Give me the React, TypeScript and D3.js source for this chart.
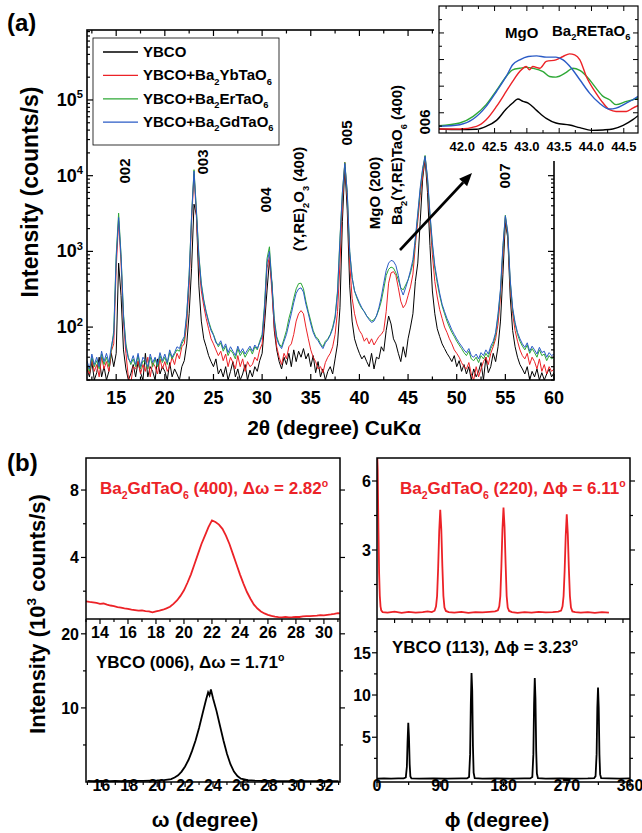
import React from 'react';
import * as d3 from 'd3';

const FONT = '"Liberation Sans", Arial, Helvetica, sans-serif';
const RED = '#ec2227';
const GREEN = '#2ea836';
const BLUE = '#2a5bc6';

// (a) theta-2theta scans, one reading every 0.25 deg from 12 to 60 deg (counts/s)
const scanStart = 12;
const scanStep = 0.25;

const ybco = [
  28, 22, 35, 20, 25, 40, 22, 30, 20, 26, 45, 30, 45, 700, 260, 50,
  28, 20, 24, 32, 22, 35, 25, 20, 45, 22, 30, 26, 20, 38, 24, 30,
  26, 20, 34, 22, 28, 24, 20, 30, 36, 60, 150, 600, 4200, 3000, 350, 120,
  70, 55, 42, 35, 30, 38, 24, 28, 22, 30, 20, 26, 35, 22, 28, 20,
  24, 32, 20, 27, 22, 30, 26, 36, 45, 110, 300, 760, 380, 90, 50, 35,
  28, 40, 32, 45, 30, 50, 35, 48, 40, 52, 38, 45, 30, 42, 25, 35,
  22, 28, 20, 26, 30, 24, 38, 60, 180, 2500, 13000, 3500, 350, 120, 70, 55,
  45, 38, 42, 35, 30, 45, 28, 40, 38, 55, 48, 90, 140, 110, 70, 60,
  45, 35, 55, 40, 70, 100, 150, 400, 700, 2500, 9000, 17000, 6000, 1200, 300, 150,
  95, 75, 60, 52, 45, 40, 35, 42, 30, 36, 26, 32, 24, 30, 20, 28,
  22, 26, 34, 20, 40, 25, 30, 45, 35, 55, 120, 500, 2400, 1500, 250, 90,
  55, 40, 32, 28, 24, 30, 20, 26, 22, 28, 20, 25, 20, 24, 28, 22,
  25,
];

const ybcoYb = [
  30, 24, 38, 26, 32, 22, 40, 28, 35, 26, 48, 60, 600, 2500, 700, 120,
  45, 22, 18, 30, 28, 36, 24, 32, 26, 40, 22, 34, 30, 24, 38, 28,
  35, 26, 30, 40, 32, 45, 38, 55, 60, 110, 350, 2500, 10500, 2800, 700, 300,
  190, 130, 95, 70, 60, 50, 42, 48, 36, 44, 30, 40, 34, 28, 42, 30,
  38, 26, 35, 30, 32, 40, 36, 50, 60, 150, 600, 850, 300, 100, 55, 40,
  32, 45, 38, 55, 60, 80, 120, 150, 165, 150, 100, 70, 50, 40, 35, 28,
  30, 25, 34, 40, 45, 55, 80, 160, 700, 4500, 15000, 5000, 700, 240, 150, 110,
  90, 80, 65, 72, 60, 70, 58, 66, 75, 80, 90, 160, 380, 520, 540, 480,
  330, 220, 180, 200, 260, 340, 500, 1200, 2500, 5500, 10000, 18000, 8000, 2500, 900, 400,
  250, 170, 130, 100, 85, 70, 60, 50, 45, 40, 34, 30, 28, 34, 24, 20,
  30, 22, 28, 35, 40, 32, 45, 55, 70, 110, 250, 900, 2800, 1600, 350, 150,
  90, 65, 50, 42, 38, 45, 32, 40, 35, 28, 38, 26, 32, 24, 30, 26,
  28,
];

const ybcoEr = [
  32, 26, 40, 30, 36, 28, 44, 32, 40, 30, 50, 90, 900, 3200, 900, 150,
  60, 40, 32, 38, 30, 42, 28, 36, 34, 28, 40, 30, 38, 30, 42, 34,
  40, 32, 46, 38, 44, 50, 48, 60, 70, 140, 500, 3000, 12000, 3500, 900, 380,
  230, 160, 120, 95, 80, 65, 55, 62, 48, 56, 42, 50, 45, 38, 52, 42,
  48, 40, 46, 52, 44, 55, 50, 65, 80, 200, 800, 1150, 400, 130, 75, 60,
  55, 70, 90, 130, 170, 240, 320, 375, 380, 320, 220, 160, 120, 90, 75, 70,
  60, 55, 65, 70, 80, 100, 140, 300, 1500, 6000, 15000, 6000, 1000, 450, 300, 240,
  200, 175, 160, 140, 130, 120, 125, 140, 170, 220, 320, 480, 580, 620, 600, 520,
  420, 330, 310, 360, 420, 520, 700, 1400, 3000, 6500, 12000, 18500, 9000, 3000, 1200, 600,
  380, 260, 190, 150, 120, 100, 85, 75, 65, 58, 52, 46, 42, 48, 38, 36,
  40, 34, 42, 38, 45, 40, 52, 60, 80, 140, 300, 1100, 3000, 1700, 400, 170,
  110, 80, 65, 56, 50, 58, 45, 52, 46, 40, 50, 42, 44, 36, 42, 38,
  40,
];

const ybcoGd = [
  36, 28, 44, 32, 40, 30, 48, 35, 45, 34, 55, 80, 800, 2800, 850, 140,
  55, 38, 34, 42, 32, 45, 30, 40, 36, 30, 44, 34, 40, 32, 46, 36,
  44, 34, 50, 40, 46, 55, 52, 65, 75, 150, 480, 2900, 11500, 3300, 850, 360,
  220, 155, 115, 90, 78, 62, 58, 66, 52, 60, 46, 55, 48, 42, 56, 46,
  52, 44, 50, 56, 48, 58, 52, 62, 75, 180, 700, 1000, 380, 120, 70, 58,
  52, 65, 80, 110, 150, 210, 280, 320, 330, 290, 200, 150, 110, 85, 72, 66,
  58, 52, 62, 68, 78, 95, 130, 280, 1400, 6000, 14500, 6000, 1000, 450, 300, 250,
  210, 180, 160, 140, 125, 115, 120, 140, 180, 250, 380, 560, 700, 760, 740, 650,
  480, 320, 265, 330, 420, 560, 780, 1500, 3200, 7000, 12500, 18000, 9500, 3200, 1300, 650,
  420, 280, 200, 160, 130, 110, 92, 80, 70, 62, 56, 50, 46, 52, 42, 40,
  44, 38, 46, 42, 50, 44, 56, 65, 85, 150, 320, 1200, 2950, 1800, 420, 180,
  115, 85, 70, 60, 54, 62, 48, 56, 50, 44, 54, 46, 48, 40, 46, 42,
  44,
];

// inset: 2theta (deg) vs intensity (a.u.)
const insetYbco = [
  [41.64, 7.8], [41.96, 7.3], [42.22, 7.6], [42.37, 9.8], [42.53, 14.3], [42.68, 22.8], [42.78, 27.3],
  [42.86, 30.3], [42.94, 28.6], [43.02, 27.3], [43.15, 21.8], [43.3, 15.8], [43.45, 12.3], [43.66, 10.8],
  [43.82, 8.8], [44.0, 6.8], [44.18, 7.1], [44.33, 7.8], [44.49, 10.5], [44.64, 14.8], [44.72, 17.8],
];
const insetYb = [
  [41.64, 7.8], [41.96, 7.8], [42.22, 9.8], [42.37, 14.8], [42.53, 24.8], [42.68, 36.0], [42.78, 43.6],
  [42.89, 51.0], [42.99, 54.8], [43.04, 52.3], [43.09, 54.8], [43.2, 53.5], [43.3, 58.6], [43.45, 59.8],
  [43.56, 62.3], [43.66, 64.3], [43.74, 63.5], [43.82, 59.8], [43.92, 47.3], [44.07, 34.8], [44.18, 27.3],
  [44.28, 22.3], [44.38, 21.0], [44.54, 21.0], [44.64, 23.5], [44.72, 25.3],
];
const insetEr = [
  [41.64, 10.3], [41.96, 12.3], [42.17, 17.3], [42.37, 26.1], [42.53, 36.8], [42.68, 47.3], [42.78, 52.3],
  [42.89, 53.5], [42.99, 54.1], [43.09, 53.5], [43.25, 51.0], [43.35, 47.3], [43.45, 46.8], [43.61, 50.3],
  [43.71, 53.5], [43.82, 51.8], [43.97, 44.8], [44.07, 38.5], [44.18, 32.3], [44.28, 29.8], [44.38, 26.1],
  [44.54, 28.6], [44.64, 29.8], [44.72, 31.1],
];
const insetGd = [
  [41.64, 9.8], [41.96, 11.0], [42.17, 15.3], [42.37, 24.8], [42.53, 36.0], [42.68, 47.3], [42.78, 56.1],
  [42.89, 59.8], [43.02, 62.3], [43.15, 62.8], [43.3, 61.8], [43.45, 61.8], [43.56, 59.8], [43.69, 53.5],
  [43.82, 44.8], [43.97, 34.8], [44.12, 27.3], [44.28, 22.8], [44.38, 23.5], [44.54, 27.3], [44.64, 29.8],
  [44.72, 32.3],
];

// (b) rocking curves, omega (deg) vs 10^3 counts/s
const omegaBGTO = [
  [13.0, 1.4], [13.25, 1.36], [13.5, 1.33], [13.75, 1.3], [14.0, 1.25], [14.25, 1.27], [14.5, 1.2],
  [14.75, 1.15], [15.0, 1.12], [15.25, 1.06], [15.5, 1.02], [15.75, 0.98], [16.0, 0.95], [16.25, 0.9],
  [16.5, 0.88], [16.75, 0.85], [17.0, 0.86], [17.25, 0.82], [17.5, 0.8], [17.75, 0.74], [18.0, 0.8],
  [18.25, 0.84], [18.5, 0.9], [18.75, 0.98], [19.0, 1.08], [19.25, 1.25], [19.5, 1.45], [19.75, 1.72],
  [20.0, 2.05], [20.25, 2.5], [20.5, 3.0], [20.75, 3.6], [21.0, 4.2], [21.25, 4.8], [21.5, 5.3],
  [21.75, 5.8], [22.0, 6.2], [22.25, 6.1], [22.5, 5.95], [22.75, 5.7], [23.0, 5.3], [23.25, 4.8],
  [23.5, 4.2], [23.75, 3.6], [24.0, 3.0], [24.25, 2.45], [24.5, 1.95], [24.75, 1.55], [25.0, 1.2],
  [25.25, 0.97], [25.5, 0.8], [25.75, 0.68], [26.0, 0.6], [26.25, 0.53], [26.5, 0.49], [26.75, 0.46],
  [27.0, 0.45], [27.25, 0.47], [27.5, 0.45], [27.75, 0.46], [28.0, 0.48], [28.25, 0.47], [28.5, 0.5],
  [28.75, 0.52], [29.0, 0.52], [29.25, 0.54], [29.5, 0.55], [29.75, 0.58], [30.0, 0.57], [30.25, 0.6],
  [30.5, 0.62], [30.75, 0.65], [31.0, 0.7], [31.15, 0.68],
];
const omegaYBCO = [
  [15.0, 0.15], [15.5, 0.12], [16.0, 0.15], [16.5, 0.13], [17.0, 0.14], [17.5, 0.12], [18.0, 0.15],
  [18.5, 0.16], [19.0, 0.15], [19.5, 0.18], [20.0, 0.2], [20.5, 0.25], [21.0, 0.4], [21.25, 0.6],
  [21.5, 0.9], [21.75, 1.4], [22.0, 2.1], [22.25, 3.0], [22.5, 4.2], [22.75, 5.6], [23.0, 7.3],
  [23.25, 9.2], [23.5, 11.1], [23.65, 12.1], [23.75, 11.7], [23.85, 12.5], [24.0, 11.3], [24.25, 9.6],
  [24.5, 7.6], [24.75, 5.6], [25.0, 3.8], [25.25, 2.4], [25.5, 1.4], [25.75, 0.8], [26.0, 0.45],
  [26.5, 0.25], [27.0, 0.18], [27.5, 0.15], [28.0, 0.14], [28.5, 0.13], [29.0, 0.12], [30.0, 0.12],
  [31.0, 0.11], [32.0, 0.12], [33.0, 0.12],
];

// (b) phi scans, phi (deg) vs 10^3 counts/s
const phiBGTO = [
  [0, 7.5], [1, 6.5], [2, 4.0], [3, 2.0], [4, 1.0], [5, 0.55], [6, 0.38], [8, 0.3], [15, 0.28], [25, 0.32],
  [35, 0.27], [45, 0.31], [55, 0.28], [65, 0.3], [72, 0.33], [78, 0.3], [82, 0.36], [84, 0.55], [85.5, 1.0],
  [87, 2.2], [88.5, 3.8], [90, 4.75], [91.5, 3.9], [93, 2.3], [94.5, 1.0], [96, 0.5], [98, 0.35], [102, 0.3],
  [110, 0.28], [120, 0.31], [130, 0.27], [140, 0.3], [150, 0.29], [160, 0.31], [168, 0.33], [172, 0.38],
  [174, 0.55], [175.5, 1.0], [177, 2.3], [178.5, 3.9], [180, 4.85], [181.5, 4.0], [183, 2.4], [184.5, 1.0],
  [186, 0.5], [188, 0.35], [192, 0.3], [200, 0.27], [210, 0.3], [220, 0.28], [230, 0.31], [240, 0.29],
  [250, 0.3], [258, 0.32], [262, 0.37], [264, 0.55], [265.5, 1.0], [267, 2.1], [268.5, 3.6], [270, 4.55],
  [271.5, 3.7], [273, 2.2], [274.5, 1.0], [276, 0.5], [278, 0.33], [282, 0.3], [290, 0.28], [300, 0.3],
  [310, 0.27], [320, 0.3], [330, 0.28],
];
const phiYBCO = [
  [0, 0.1], [10, 0.12], [20, 0.1], [30, 0.12], [38, 0.12], [41, 0.25], [42.5, 1.5], [43.5, 4.5], [44.5, 6.7],
  [45.5, 5.0], [46.5, 1.8], [47.5, 0.35], [49, 0.12], [60, 0.1], [80, 0.12], [100, 0.1], [120, 0.12],
  [128, 0.12], [131, 0.3], [132.5, 3.0], [133.5, 9.0], [134.5, 12.6], [135.5, 10.5], [136.5, 4.0],
  [137.5, 0.8], [139, 0.15], [150, 0.1], [170, 0.12], [190, 0.1], [210, 0.12], [218, 0.12], [221, 0.3],
  [222.5, 3.0], [223.5, 9.0], [224.5, 12.0], [225.5, 9.5], [226.5, 3.5], [227.5, 0.7], [229, 0.15],
  [240, 0.1], [260, 0.12], [280, 0.1], [300, 0.12], [309, 0.15], [311, 0.4], [312.5, 3.0], [313.5, 8.5],
  [314.5, 10.9], [315.5, 8.5], [316.5, 3.0], [317.5, 0.6], [319, 0.15], [330, 0.12], [345, 0.1], [360, 0.12],
];

type Part = [string, string?];

function Rich({ parts, size, ...rest }: any) {
  let cur = 0;
  return (
    <text fontSize={size} {...rest}>
      {parts.map((p: Part, i: number) => {
        const kind = p[1];
        const off = kind === 'sub' ? size * 0.28 : kind === 'sup' ? -size * 0.42 : 0;
        const dy = off - cur;
        cur = off;
        return (
          <tspan key={i} dy={dy !== 0 ? dy : undefined} fontSize={kind ? size * 0.62 : size}>
            {p[0]}
          </tspan>
        );
      })}
    </text>
  );
}

// rotated label centred on (cx, cy)
function VLabel({ parts, size, cx, cy }: any) {
  return (
    <Rich
      parts={parts}
      size={size}
      textAnchor="middle"
      transform={`translate(${cx + size * 0.36},${cy}) rotate(-90)`}
    />
  );
}

const hT = (vals: number[], sc: any, y: number, len: number, key: string) =>
  vals.map((v) => <line key={key + v} x1={sc(v)} x2={sc(v)} y1={y} y2={y + len} />);
const vT = (vals: number[], sc: any, x: number, len: number, key: string) =>
  vals.map((v) => <line key={key + v} x1={x} x2={x + len} y1={sc(v)} y2={sc(v)} />);

const legendItems: { parts: Part[]; color: string }[] = [
  { parts: [['YBCO']], color: '#000' },
  { parts: [['YBCO+Ba'], ['2', 'sub'], ['YbTaO'], ['6', 'sub']], color: RED },
  { parts: [['YBCO+Ba'], ['2', 'sub'], ['ErTaO'], ['6', 'sub']], color: GREEN },
  { parts: [['YBCO+Ba'], ['2', 'sub'], ['GdTaO'], ['6', 'sub']], color: BLUE },
];

export default function App() {
  // ---------- (a) ----------
  const xA = d3.scaleLinear().domain([12, 60]).range([87, 554]);
  const yA = d3.scaleLog().domain([20, 8.4e5]).range([380, 30]);
  const lineA = d3
    .line<number>()
    .x((_, i) => xA(scanStart + i * scanStep))
    .y((v) => yA(Math.max(v, 12)));
  const aMajX = d3.range(15, 61, 5);
  const aMinX = d3.range(12.5, 60, 5);
  const aMajY = [100, 1e3, 1e4, 1e5];
  const aMinY: number[] = [];
  for (let d = 1; d <= 5; d++)
    for (let k = 2; k <= 9; k++) {
      const v = k * 10 ** d;
      if (v >= 20 && v <= 8.4e5) aMinY.push(v);
    }
  const scans = [
    { v: ybco, c: '#000' },
    { v: ybcoYb, c: RED },
    { v: ybcoEr, c: GREEN },
    { v: ybcoGd, c: BLUE },
  ];

  // inset
  const xI = d3.scaleLinear().domain([41.64, 44.72]).range([439, 638]);
  const yI = d3.scaleLinear().domain([4.8, 100.25]).range([133, 6]);
  const lineI = d3
    .line<number[]>()
    .x((d) => xI(d[0]))
    .y((d) => yI(d[1]))
    .curve(d3.curveMonotoneX);
  const insets = [
    { d: insetYbco, c: '#000' },
    { d: insetEr, c: GREEN },
    { d: insetYb, c: RED },
    { d: insetGd, c: BLUE },
  ];

  // arrow geometry
  const a0 = [400, 250];
  const a1 = [472, 173];
  const adx = a1[0] - a0[0];
  const ady = a1[1] - a0[1];
  const alen = Math.hypot(adx, ady);
  const ux = adx / alen;
  const uy = ady / alen;
  const bx = a1[0] - 13 * ux;
  const by = a1[1] - 13 * uy;
  const head = `${a1[0]},${a1[1]} ${bx - 5.5 * uy},${by + 5.5 * ux} ${bx + 5.5 * uy},${by - 5.5 * ux}`;

  // ---------- (b) ----------
  const L = [86, 340];
  const R = [377, 630];
  const topY = [619, 458];
  const botY = [782, 619];
  const xTL = d3.scaleLinear().domain([13, 31.15]).range(L);
  const yTL = d3.scaleLinear().domain([0.35, 9.9]).range(topY);
  const xBL = d3.scaleLinear().domain([14.9, 33.1]).range(L);
  const yBL = d3.scaleLinear().domain([0, 22]).range(botY);
  const xR = d3.scaleLinear().domain([0, 360]).range(R);
  const yTR = d3.scaleLinear().domain([0, 7]).range(topY);
  const yBR = d3.scaleLinear().domain([-0.3, 19]).range(botY);
  const mk = (sx: any, sy: any) =>
    d3
      .line<number[]>()
      .x((d) => sx(d[0]))
      .y((d) => sy(d[1]));

  const tickStyle = { stroke: '#000', strokeWidth: 1.2 };
  const bold = { fontFamily: FONT, fontWeight: 'bold' as const };

  return (
    <svg
      width={642}
      height={833}
      style={{ position: 'absolute', left: 0, top: 0, background: '#fff' }}
      {...bold}
    >
      <defs>
        <clipPath id="clipA">
          <rect x={87} y={30} width={467} height={350} />
        </clipPath>
        <clipPath id="clipI">
          <rect x={439} y={6} width={199} height={127} />
        </clipPath>
        <clipPath id="clipTL">
          <rect x={86} y={458} width={254} height={161} />
        </clipPath>
        <clipPath id="clipBL">
          <rect x={86} y={619} width={254} height={163} />
        </clipPath>
        <clipPath id="clipTR">
          <rect x={377} y={458} width={253} height={161} />
        </clipPath>
        <clipPath id="clipBR">
          <rect x={377} y={619} width={253} height={163} />
        </clipPath>
      </defs>
      <rect width={642} height={833} fill="#fff" />

      {/* ===== (a) ===== */}
      <text x={7} y={31} fontSize={24}>(a)</text>
      <g clipPath="url(#clipA)" fill="none">
        {scans.map((s, i) => (
          <path key={i} d={lineA(s.v) || ''} stroke={s.c} strokeWidth={1} />
        ))}
      </g>
      <rect x={87} y={30} width={467} height={350} fill="none" stroke="#000" strokeWidth={1.6} />
      <g {...tickStyle}>
        {hT(aMajX, xA, 380, -6, 'bM')}
        {hT(aMinX, xA, 380, -3.5, 'bm')}
        {hT(aMajX, xA, 30, 6, 'tM')}
        {hT(aMinX, xA, 30, 3.5, 'tm')}
        {vT(aMajY, yA, 87, 6, 'lM')}
        {vT(aMinY, yA, 87, 3, 'lm')}
        {vT(aMajY, yA, 554, -6, 'rM')}
        {vT(aMinY, yA, 554, -3, 'rm')}
      </g>
      {aMajX.map((v) => (
        <text key={'xl' + v} x={xA(v)} y={404} fontSize={18} textAnchor="middle">{v}</text>
      ))}
      {aMajY.map((v) => (
        <Rich
          key={'yl' + v}
          parts={[['10'], [String(Math.round(Math.log10(v))), 'sup']]}
          size={18}
          x={83}
          y={yA(v) + 6}
          textAnchor="end"
        />
      ))}
      <text x={334} y={435} fontSize={21} textAnchor="middle">2θ (degree) CuKα</text>
      <VLabel parts={[['Intensity (counts/s)']]} size={23} cx={30} cy={192} />

      {/* legend */}
      <rect x={93} y={38} width={186} height={107} fill="#fff" stroke="#000" strokeWidth={0.8} />
      {legendItems.map((it, i) => {
        const y = 52 + i * 23.4;
        return (
          <g key={i}>
            <line x1={103} x2={138} y1={y} y2={y} stroke={it.color} strokeWidth={1.3} />
            <Rich parts={it.parts} size={15} x={143} y={y + 5} />
          </g>
        );
      })}

      {/* peak labels */}
      <VLabel parts={[['002']]} size={15} cx={125} cy={171} />
      <VLabel parts={[['003']]} size={15} cx={203} cy={162} />
      <VLabel parts={[['004']]} size={15} cx={266} cy={200} />
      <VLabel parts={[['(Y,RE)'], ['2', 'sub'], ['O'], ['3', 'sub'], [' (400)']]} size={15} cx={299} cy={199} />
      <VLabel parts={[['005']]} size={15} cx={347} cy={133} />
      <VLabel parts={[['MgO (200)']]} size={15} cx={375} cy={193} />
      <VLabel parts={[['Ba'], ['2', 'sub'], ['(Y,RE)TaO'], ['6', 'sub'], [' (400)']]} size={15} cx={397} cy={155} />
      <VLabel parts={[['006']]} size={15} cx={425} cy={122} />
      <VLabel parts={[['007']]} size={15} cx={505} cy={176} />

      {/* arrow */}
      <line x1={a0[0]} y1={a0[1]} x2={bx} y2={by} stroke="#000" strokeWidth={2.6} />
      <polygon points={head} fill="#000" />

      {/* inset */}
      <rect x={434} y={0} width={208} height={161} fill="#fff" />
      <g clipPath="url(#clipI)" fill="none">
        {insets.map((s, i) => (
          <path key={i} d={lineI(s.d) || ''} stroke={s.c} strokeWidth={1.4} />
        ))}
      </g>
      <rect x={439} y={6} width={199} height={127} fill="none" stroke="#000" strokeWidth={1.2} />
      <g stroke="#000" strokeWidth={1}>
        {hT(d3.range(42, 44.6, 0.5), xI, 133, -5, 'ib')}
        {hT(d3.range(41.75, 44.7, 0.5), xI, 133, -3, 'ibm')}
        {hT(d3.range(42, 44.6, 0.5), xI, 6, 5, 'it')}
        {hT(d3.range(41.75, 44.7, 0.5), xI, 6, 3, 'itm')}
        {vT([20, 40, 60, 80], yI, 439, 5, 'il')}
        {vT([10, 30, 50, 70, 90], yI, 439, 3, 'ilm')}
        {vT([20, 40, 60, 80], yI, 638, -5, 'ir')}
        {vT([10, 30, 50, 70, 90], yI, 638, -3, 'irm')}
      </g>
      {d3.range(42, 44.6, 0.5).map((v) => (
        <text key={'il' + v} x={xI(v)} y={151} fontSize={13} textAnchor="middle">{v.toFixed(1)}</text>
      ))}
      <text x={505} y={38} fontSize={15}>MgO</text>
      <Rich parts={[['Ba'], ['2', 'sub'], ['RETaO'], ['6', 'sub']]} size={15} x={552} y={36} />

      {/* ===== (b) ===== */}
      <text x={7} y={471} fontSize={24}>(b)</text>

      <g fill="none" strokeWidth={1.8}>
        <path clipPath="url(#clipTL)" d={mk(xTL, yTL)(omegaBGTO) || ''} stroke={RED} />
        <path clipPath="url(#clipBL)" d={mk(xBL, yBL)(omegaYBCO) || ''} stroke="#000" />
        <path clipPath="url(#clipTR)" d={mk(xR, yTR)(phiBGTO) || ''} stroke={RED} />
        <path clipPath="url(#clipBR)" d={mk(xR, yBR)(phiYBCO) || ''} stroke="#000" />
      </g>
      <g fill="none" stroke="#000" strokeWidth={1.5}>
        <rect x={86} y={458} width={254} height={324} />
        <line x1={86} x2={340} y1={619} y2={619} />
        <rect x={377} y={458} width={253} height={324} />
        <line x1={377} x2={630} y1={619} y2={619} />
      </g>
      <g {...tickStyle}>
        {/* top-left */}
        {hT(d3.range(14, 31, 2), xTL, 619, 5, 'tlb')}
        {hT(d3.range(13, 31.5, 2), xTL, 619, 3, 'tlbm')}
        {vT([4, 8], yTL, 86, -5, 'tll')}
        {vT([2, 6], yTL, 86, -3, 'tllm')}
        {vT([4, 8], yTL, 340, 5, 'tlr')}
        {vT([2, 6], yTL, 340, 3, 'tlrm')}
        {/* bottom-left */}
        {hT(d3.range(16, 33, 2), xBL, 782, 5, 'blb')}
        {hT(d3.range(15, 33.5, 2), xBL, 782, 3, 'blbm')}
        {vT([10, 20], yBL, 86, -5, 'bll')}
        {vT([5, 15], yBL, 86, -3, 'bllm')}
        {vT([10, 20], yBL, 340, 5, 'blr')}
        {vT([5, 15], yBL, 340, 3, 'blrm')}
        {/* top-right */}
        {hT(d3.range(25, 351, 25), xR, 619, 4, 'trb')}
        {vT([3, 6], yTR, 377, -5, 'trl')}
        {vT([1.5, 4.5], yTR, 377, -3, 'trlm')}
        {vT([3, 6], yTR, 630, 5, 'trr')}
        {vT([1.5, 4.5], yTR, 630, 3, 'trrm')}
        {/* bottom-right */}
        {hT([0, 90, 180, 270, 360], xR, 782, 5, 'brb')}
        {hT([45, 135, 225, 315], xR, 782, 3, 'brbm')}
        {vT([5, 10, 15], yBR, 377, -5, 'brl')}
        {vT([2.5, 7.5, 12.5, 17.5], yBR, 377, -3, 'brlm')}
        {vT([5, 10, 15], yBR, 630, 5, 'brr')}
        {vT([2.5, 7.5, 12.5, 17.5], yBR, 630, 3, 'brrm')}
      </g>

      {/* tick labels */}
      {d3.range(14, 31, 2).map((v) => (
        <text key={'tlx' + v} x={xTL(v)} y={638} fontSize={16} textAnchor="middle">{v}</text>
      ))}
      {d3.range(16, 33, 2).map((v) => (
        <text key={'blx' + v} x={xBL(v)} y={791} fontSize={16} textAnchor="middle">{v}</text>
      ))}
      {[0, 90, 180, 270, 360].map((v) => (
        <text key={'brx' + v} x={xR(v)} y={791} fontSize={16} textAnchor="middle">{v}</text>
      ))}
      {[4, 8].map((v) => (
        <text key={'tly' + v} x={79} y={yTL(v) + 6} fontSize={16} textAnchor="end">{v}</text>
      ))}
      {[10, 20].map((v) => (
        <text key={'bly' + v} x={79} y={yBL(v) + 6} fontSize={16} textAnchor="end">{v}</text>
      ))}
      {[3, 6].map((v) => (
        <text key={'try' + v} x={371} y={yTR(v) + 6} fontSize={16} textAnchor="end">{v}</text>
      ))}
      {[5, 10, 15].map((v) => (
        <text key={'bry' + v} x={371} y={yBR(v) + 6} fontSize={16} textAnchor="end">{v}</text>
      ))}

      {/* annotations */}
      <Rich
        parts={[['Ba'], ['2', 'sub'], ['GdTaO'], ['6', 'sub'], [' (400), Δω = 2.82'], ['o', 'sup']]}
        size={17}
        x={100}
        y={494}
        fill={RED}
      />
      <Rich
        parts={[['Ba'], ['2', 'sub'], ['GdTaO'], ['6', 'sub'], [' (220), Δϕ = 6.11'], ['o', 'sup']]}
        size={17}
        x={400}
        y={494}
        fill={RED}
      />
      <Rich parts={[['YBCO (006), Δω = 1.71'], ['o', 'sup']]} size={17} x={96} y={668} />
      <Rich parts={[['YBCO (113), Δϕ = 3.23'], ['o', 'sup']]} size={17} x={392} y={653} />

      <text x={205} y={827} fontSize={21} textAnchor="middle">ω (degree)</text>
      <text x={497} y={827} fontSize={21} textAnchor="middle">ϕ (degree)</text>
      <VLabel parts={[['Intensity (10'], ['3', 'sup'], [' counts/s)']]} size={22} cx={37} cy={614} />
    </svg>
  );
}
